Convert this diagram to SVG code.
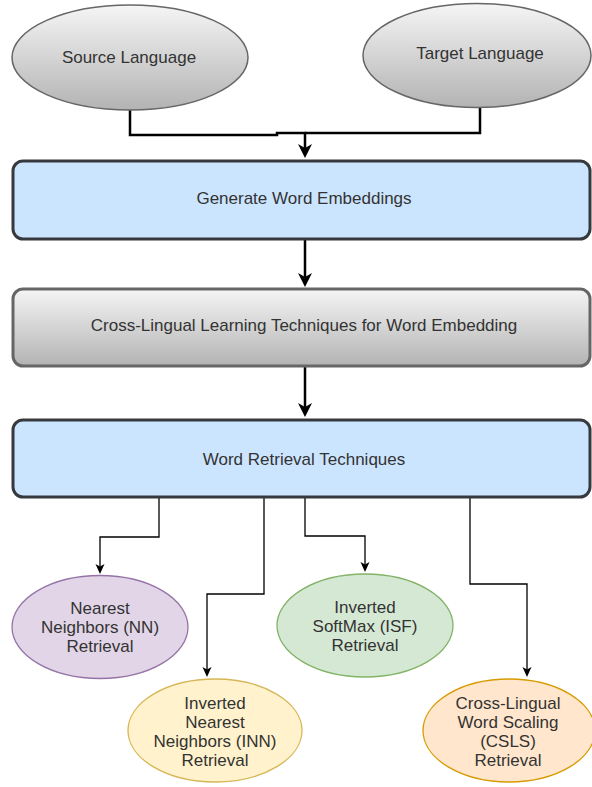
<svg xmlns="http://www.w3.org/2000/svg" width="592" height="787" viewBox="0 0 592 787">
<style>
text{font-family:"Liberation Sans",Arial,sans-serif;font-size:17px;fill:#333333;text-anchor:middle}
.gray{fill:url(#g);stroke:#666666}
.blue{fill:#cce5ff;stroke:#36393d;stroke-width:3}
.thick{fill:none;stroke:#000;stroke-width:2.5}
.thin{fill:none;stroke:#000;stroke-width:1.3}
</style>
<defs>
<linearGradient id="g" x1="0" y1="0" x2="0" y2="1">
<stop offset="0" stop-color="#f5f5f5"/>
<stop offset="1" stop-color="#b3b3b3"/>
</linearGradient>
<marker id="big" viewBox="0 0 14 14" refX="8" refY="7" markerWidth="14" markerHeight="14" markerUnits="userSpaceOnUse" orient="auto">
<path d="M0,0 L14,7 L0,14 L4,7 z" fill="#000"/>
</marker>
<marker id="small" viewBox="0 0 10 10" refX="6" refY="5" markerWidth="10" markerHeight="10" markerUnits="userSpaceOnUse" orient="auto">
<path d="M0,0.5 L10,5 L0,9.5 L2.5,5 z" fill="#000"/>
</marker>
</defs>
<g id="connectors">
<path class="thick" d="M130,110 V135 H277 V133 H305 V152" marker-end="url(#big)"/>
<path class="thick" d="M480,107 V133 H305"/>
<path class="thick" d="M305,240 V281" marker-end="url(#big)"/>
<path class="thick" d="M305,367 V411" marker-end="url(#big)"/>
<path class="thin" d="M159,498 V537 H100 V570" marker-end="url(#small)"/>
<path class="thin" d="M264,498 V594 H207 V673" marker-end="url(#small)"/>
<path class="thin" d="M305,498 V536 H365 V568" marker-end="url(#small)"/>
<path class="thin" d="M470,498 V584 H527 V673" marker-end="url(#small)"/>
</g>
<g id="source">
<ellipse class="gray" stroke-width="1.5" cx="130" cy="57.5" rx="118" ry="52.5"/>
<text x="129" y="63">Source Language</text>
</g>
<g id="target">
<ellipse class="gray" stroke-width="1.5" cx="477" cy="55.5" rx="114" ry="52"/>
<text x="480" y="59">Target Language</text>
</g>
<g id="generate">
<rect class="blue" x="13" y="161" width="577" height="78" rx="10"/>
<text x="304" y="204">Generate Word Embeddings</text>
</g>
<g id="crosslingual">
<rect class="gray" stroke-width="3" x="13" y="289" width="577" height="77" rx="10"/>
<text x="304" y="331">Cross-Lingual Learning Techniques for Word Embedding</text>
</g>
<g id="retrieval">
<rect class="blue" x="13" y="420" width="577" height="77" rx="10"/>
<text x="304" y="465">Word Retrieval Techniques</text>
</g>
<g id="nn">
<ellipse cx="100" cy="627" rx="88" ry="51.5" fill="#e1d5e7" stroke="#9673a6" stroke-width="1.3"/>
<text x="100" y="614">Nearest</text>
<text x="100" y="633">Neighbors (NN)</text>
<text x="100" y="652">Retrieval</text>
</g>
<g id="isf">
<ellipse cx="365" cy="625.5" rx="88" ry="51.5" fill="#d5e8d4" stroke="#82b366" stroke-width="1.3"/>
<text x="365" y="613">Inverted</text>
<text x="365" y="632">SoftMax (ISF)</text>
<text x="365" y="651">Retrieval</text>
</g>
<g id="inn">
<ellipse cx="215" cy="730.5" rx="87" ry="51.5" fill="#fff2cc" stroke="#d6b656" stroke-width="1.3"/>
<text x="215" y="709">Inverted</text>
<text x="215" y="728">Nearest</text>
<text x="215" y="747">Neighbors (INN)</text>
<text x="215" y="766">Retrieval</text>
</g>
<g id="csls">
<ellipse cx="509" cy="730.5" rx="86" ry="51.5" fill="#ffe6cc" stroke="#d79b00" stroke-width="1.3"/>
<text x="508" y="709">Cross-Lingual</text>
<text x="508" y="728">Word Scaling</text>
<text x="508" y="747">(CSLS)</text>
<text x="508" y="766">Retrieval</text>
</g>
</svg>
